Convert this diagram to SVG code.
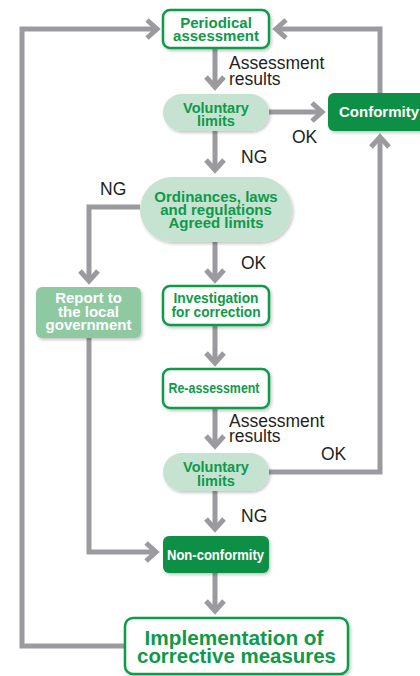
<svg xmlns="http://www.w3.org/2000/svg" width="420" height="676" viewBox="0 0 420 676">
<defs>
<filter id="sh" x="-20%" y="-20%" width="140%" height="150%">
<feDropShadow dx="1.5" dy="2" stdDeviation="1.5" flood-color="#000" flood-opacity="0.22"/>
</filter>
<marker id="ah" markerUnits="userSpaceOnUse" markerWidth="30" markerHeight="30" viewBox="-15 -15 30 30" refX="0" refY="0" orient="auto" overflow="visible">
<path d="M-10,-9 L0,0 L-10,9" fill="none" stroke="#9b9b9f" stroke-width="5"/>
</marker>
</defs>
<style>
.c{fill:none;stroke:#9b9b9f;stroke-width:5;marker-end:url(#ah)}
.ob{fill:#fff;stroke:#0e9a4a;stroke-width:2.5;filter:url(#sh)}
.pl{fill:#c6e2d1;filter:url(#sh)}
.dk{fill:#0a8f45;filter:url(#sh)}
.md{fill:#8ec9a2;filter:url(#sh)}
.g{font-family:"Liberation Sans",Arial,sans-serif;font-weight:bold;fill:#0e9a4a;text-anchor:middle}
.w{font-family:"Liberation Sans",Arial,sans-serif;font-weight:bold;fill:#fff;text-anchor:middle}
.l{font-family:"Liberation Sans",Arial,sans-serif;fill:#231f20;font-size:17.5px}
</style>
<g id="connectors">
<path class="c" d="M125,646 H22 V29 H157"/>
<path class="c" d="M380,93 V29 H276"/>
<path class="c" d="M215,49 V87"/>
<path class="c" d="M269,112 H322"/>
<path class="c" d="M215,131 V170"/>
<path class="c" d="M140,207 H89 V281"/>
<path class="c" d="M215,242 V280"/>
<path class="c" d="M215,325 V363"/>
<path class="c" d="M215,408 V446"/>
<path class="c" d="M269,472 H380 V137"/>
<path class="c" d="M215,491 V529"/>
<path class="c" d="M89,338 V552 H156"/>
<path class="c" d="M215,573 V611"/>
</g>
<g id="labels">
<text class="l" x="229" y="69">Assessment</text>
<text class="l" x="229" y="85">results</text>
<text class="l" x="292" y="143">OK</text>
<text class="l" x="241" y="163">NG</text>
<text class="l" x="100" y="195">NG</text>
<text class="l" x="241" y="269">OK</text>
<text class="l" x="229" y="427">Assessment</text>
<text class="l" x="229" y="442">results</text>
<text class="l" x="321" y="460">OK</text>
<text class="l" x="241" y="522">NG</text>
</g>
<g id="periodical">
<rect class="ob" x="163" y="10" width="106" height="38" rx="7"/>
<text class="g" x="216" y="28" font-size="15">Periodical</text>
<text class="g" x="216" y="40.5" font-size="15">assessment</text>
</g>
<g id="voluntary1">
<rect class="pl" x="163" y="94" width="106" height="37" rx="18.5"/>
<text class="g" x="216" y="113" font-size="14.5">Voluntary</text>
<text class="g" x="216" y="125.5" font-size="14.5">limits</text>
</g>
<g id="conformity">
<rect class="dk" x="328" y="93" width="100" height="38" rx="6"/>
<text class="w" x="379" y="117" font-size="15">Conformity</text>
</g>
<g id="ordinances">
<rect class="pl" x="140" y="177" width="152" height="65" rx="32.5"/>
<text class="g" x="216" y="202" font-size="15">Ordinances, laws</text>
<text class="g" x="216" y="215" font-size="15">and regulations</text>
<text class="g" x="216" y="228" font-size="15">Agreed limits</text>
</g>
<g id="report">
<rect class="md" x="36" y="287" width="105" height="51" rx="6"/>
<text class="w" x="88.5" y="303" font-size="15">Report to</text>
<text class="w" x="88.5" y="316.5" font-size="15">the local</text>
<text class="w" x="88.5" y="329.5" font-size="15">government</text>
</g>
<g id="investigation">
<rect class="ob" x="163" y="286" width="106" height="39" rx="7"/>
<text class="g" x="216" y="303" font-size="14" textLength="85" lengthAdjust="spacingAndGlyphs">Investigation</text>
<text class="g" x="216" y="316.5" font-size="14" textLength="89" lengthAdjust="spacingAndGlyphs">for correction</text>
</g>
<g id="reassessment">
<rect class="ob" x="163" y="369" width="106" height="39" rx="7"/>
<text class="g" x="214" y="392.5" font-size="14" textLength="91" lengthAdjust="spacingAndGlyphs">Re-assessment</text>
</g>
<g id="voluntary2">
<rect class="pl" x="163" y="453" width="106" height="38" rx="19"/>
<text class="g" x="216" y="472" font-size="14.5">Voluntary</text>
<text class="g" x="216" y="485.5" font-size="14.5">limits</text>
</g>
<g id="nonconformity">
<rect class="dk" x="163" y="536" width="106" height="37" rx="6"/>
<text class="w" x="215.5" y="559.5" font-size="14" textLength="97" lengthAdjust="spacingAndGlyphs">Non-conformity</text>
</g>
<g id="implementation">
<rect class="ob" x="125" y="618" width="223" height="56" rx="8"/>
<text class="g" x="234" y="645" font-size="20" textLength="179" lengthAdjust="spacingAndGlyphs">Implementation of</text>
<text class="g" x="236.5" y="663" font-size="20" textLength="199" lengthAdjust="spacingAndGlyphs">corrective measures</text>
</g>
</svg>
